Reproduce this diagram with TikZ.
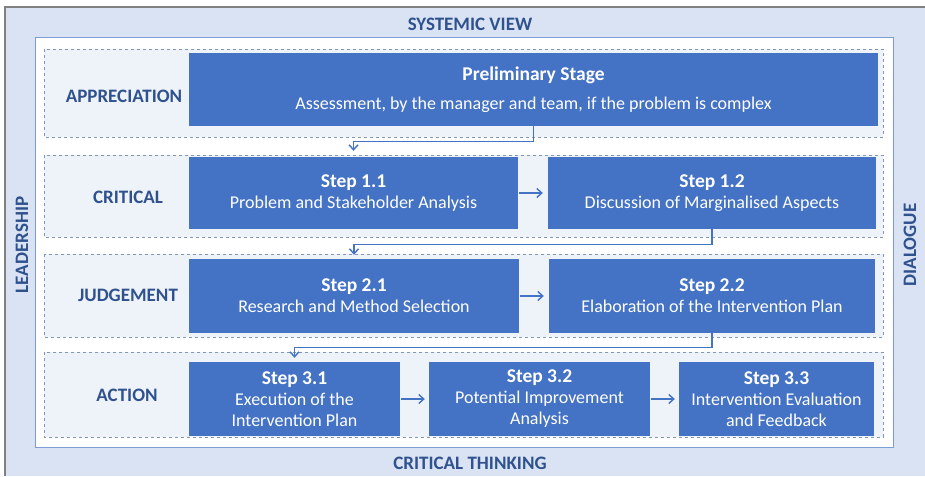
\documentclass[tikz,border=0pt]{standalone}
\usepackage{fontspec}
\setmainfont{Carlito}
\usetikzlibrary{arrows.meta}
\definecolor{boxblue}{HTML}{4472C4}
\definecolor{labelblue}{HTML}{2F528F}
\definecolor{backblue}{HTML}{DAE3F3}
\definecolor{rowblue}{HTML}{EEF2F9}
\definecolor{dashgray}{HTML}{8497B0}
\newcommand{\steptitle}[1]{{\fontsize{19.5}{21}\selectfont\bfseries #1}}
\begin{document}
\begin{tikzpicture}[x=1pt,y=-1pt,
	stepbox/.style={fill=boxblue, text=white, inner sep=0pt, align=center,
		font=\fontsize{18}{21}\selectfont},
	rowbox/.style={draw=dashgray, dashed, fill=rowblue, line width=0.8pt},
	stage/.style={text=labelblue, font=\fontsize{19}{22}\selectfont\bfseries},
	flow/.style={draw=boxblue, line width=1.4pt, -{Straight Barb[length=5pt,width=9pt]}}]
	\useasboundingbox (0,0) rectangle (925,476);
	% frames
	\fill[backblue] (5,7) rectangle (925,476);
	\draw[gray, line width=1.2pt] (5,476) -- (5,7) -- (925,7);
	\draw[draw=boxblue!70, fill=white, line width=0.8pt] (35,37) rectangle (893,447);
	\node[stage] (top) at (470,24) {SYSTEMIC VIEW};
	\node[stage] (bottom) at (470,463) {CRITICAL THINKING};
	\node[stage, rotate=90] (left) at (22,245) {LEADERSHIP};
	\node[stage, rotate=90] (right) at (910,245) {DIALOGUE};
	% the four rows
	\draw[rowbox] (44,49) rectangle (883,137);
	\draw[rowbox] (44,155) rectangle (883,237);
	\draw[rowbox] (44,254) rectangle (883,337);
	\draw[rowbox] (44,352) rectangle (883,437);
	\node[stage] (A) at (124,96) {APPRECIATION};
	\node[stage] (C) at (128,197) {CRITICAL};
	\node[stage] (J) at (128,295) {JUDGEMENT};
	\node[stage] (Ac) at (127,395) {ACTION};
	% steps
	\node[stepbox, minimum width=689, minimum height=73] (prelim) at (533.5,89.5)
		{\steptitle{Preliminary Stage}\\[8pt] Assessment, by the manager and team, if the problem is complex};
	\node[stepbox, minimum width=329, minimum height=72] (s11) at (353.5,193)
		{\steptitle{Step 1.1}\\ Problem and Stakeholder Analysis};
	\node[stepbox, minimum width=328, minimum height=72] (s12) at (712,193)
		{\steptitle{Step 1.2}\\ Discussion of Marginalised Aspects};
	\node[stepbox, minimum width=330, minimum height=74] (s21) at (354,296)
		{\steptitle{Step 2.1}\\ Research and Method Selection};
	\node[stepbox, minimum width=326, minimum height=74] (s22) at (712,296)
		{\steptitle{Step 2.2}\\ Elaboration of the Intervention Plan};
	\node[stepbox, minimum width=211, minimum height=74] (s31) at (294.5,399)
		{\steptitle{Step 3.1}\\ Execution of the\\ Intervention Plan};
	\node[stepbox, minimum width=221, minimum height=74] (s32) at (539.5,399)
		{\steptitle{Step 3.2}\\ Potential Improvement\\ Analysis};
	\node[stepbox, minimum width=195, minimum height=74] (s33) at (776.5,399)
		{\steptitle{Step 3.3}\\ Intervention Evaluation\\ and Feedback};
	% arrows
	\draw[flow] (prelim.south) -- ++(0,15) -| ([yshift=6pt]s11.north);
	\draw[flow] (s12.south) -- ++(0,15) -| ([yshift=4pt]s21.north);
	\draw[flow] (s22.south) -- ++(0,14) -| ([yshift=4pt]s31.north);
	\draw[flow] ([xshift=1pt]s11.east) -- ([xshift=-5pt]s12.west);
	\draw[flow] ([xshift=1pt]s21.east) -- ([xshift=-5pt]s22.west);
	\draw[flow] ([xshift=1pt]s31.east) -- ([xshift=-4pt]s32.west);
	\draw[flow] ([xshift=1pt]s32.east) -- ([xshift=-4pt]s33.west);
\end{tikzpicture}
\end{document}
